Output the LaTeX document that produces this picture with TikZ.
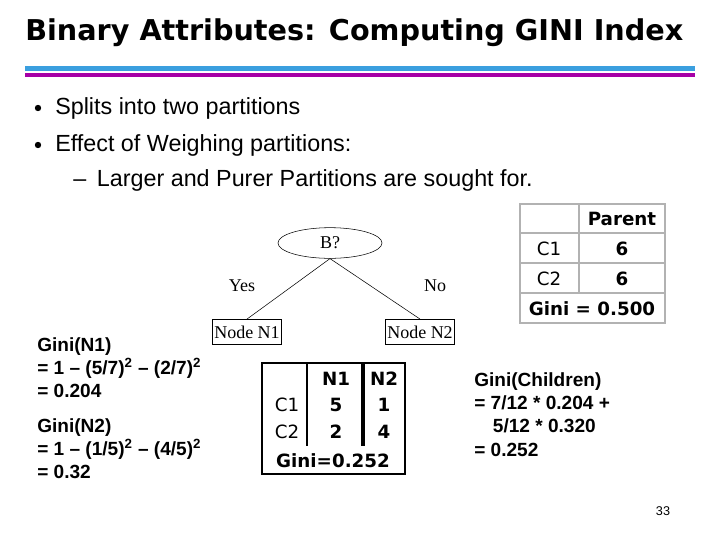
\documentclass[tikz,border=0pt]{standalone}
\usepackage{fontspec}
\usetikzlibrary{shapes.geometric}
\setmainfont{Liberation Sans}
\newfontfamily\dejavu{DejaVu Sans}
\newfontfamily\serifx{Liberation Serif}
\begin{document}
\begin{tikzpicture}[x=0.75pt,y=-0.75pt,
  body/.style={anchor=west,inner sep=0pt,font=\fontsize{17.5}{20}\selectfont},
  calc/.style={anchor=west,inner sep=0pt,font=\bfseries\fontsize{14.3}{17.5}\selectfont,align=left},
  ser/.style={inner sep=0pt,font=\serifx\fontsize{13.5}{15}\selectfont},
  tb/.style={inner sep=0pt,font=\dejavu\fontsize{13.7}{15}\selectfont},
  tbb/.style={inner sep=0pt,font=\dejavu\bfseries\fontsize{13.7}{15}\selectfont}]
\useasboundingbox[fill=white] (0,0) rectangle (720,540);
\node[anchor=west,inner sep=0pt,font=\dejavu\bfseries\fontsize{21.5}{24}\selectfont] (title) at (25,33) {Binary Attributes: Computing GINI Index};
\fill[cyan!75!blue!80] (25,66) rectangle (695,71);
\fill[violet!70!magenta] (25,73) rectangle (695,77);
\fill (38,108) circle (3.2);
\fill (38,145) circle (3.2);
\node[body] (b1) at (55,108) {Splits into two partitions};
\node[body] (b2) at (55,145) {Effect of Weighing partitions:};
\node[body] (b3) at (73,180) {–\hspace{8pt}Larger and Purer Partitions are sought for.};
% tree
\node[draw,ellipse,minimum width=78pt,minimum height=23pt,ser,inner sep=0pt] (B) at (330,243) {B?};
\node[draw,ser,minimum width=52pt,minimum height=19pt] (N1) at (247,332) {Node N1};
\node[draw,ser,minimum width=52pt,minimum height=19pt] (N2) at (420,332) {Node N2};
\draw (B.south) -- (N1.north);
\draw (B.south) -- (N2.north);
\node[ser] (yes) at (242,286) {Yes};
\node[ser] (no) at (435,286) {No};
% parent table
\draw[gray!60,line width=0.8pt] (520,204) rectangle (665,323);
\foreach \yy in {233,263,293} \draw[gray!60,line width=0.8pt] (520,\yy) -- (665,\yy);
\draw[gray!60,line width=0.8pt] (579,204) -- (579,293);
\node[tbb] (ph) at (622,219) {Parent};
\node[tb] (pc1) at (549,249) {C1};
\node[tbb] (p61) at (622,249) {6};
\node[tb] (pc2) at (549,279) {C2};
\node[tbb] (p62) at (622,279) {6};
\node[tbb] (pg) at (592,309) {Gini = 0.500};
% children table
\draw[line width=0.8pt] (262,363) rectangle (405,474);
\draw[line width=0.8pt] (307,363) -- (307,446);
\draw[line width=2.5pt] (363,363) -- (363,446);
\node[tbb] (h1) at (336,379) {N1};
\node[tbb] (h2) at (384,379) {N2};
\node[tb] (c1) at (287,405) {C1};
\node[tbb] (v11) at (336,405) {5};
\node[tbb] (v12) at (384,405) {1};
\node[tb] (c2) at (287,432) {C2};
\node[tbb] (v21) at (336,432) {2};
\node[tbb] (v22) at (384,432) {4};
\node[tbb] (g) at (333,461) {Gini=0.252};
% left calcs
\node[calc,anchor=north west] (g1) at (37,337) {Gini(N1)\\= 1 – (5/7)\textsuperscript{2} – (2/7)\textsuperscript{2}\\= 0.204};
\node[calc,anchor=north west] (g2) at (37,418) {Gini(N2)\\= 1 – (1/5)\textsuperscript{2} – (4/5)\textsuperscript{2}\\= 0.32};
\node[calc,anchor=north west] (gc) at (474,372) {Gini(Children)\\= 7/12 * 0.204 +\\\hspace{14pt}5/12 * 0.320\\= 0.252};
\node[inner sep=0pt,font=\fontsize{9.5}{11}\selectfont] (pg33) at (663,511) {33};
\end{tikzpicture}
\end{document}
